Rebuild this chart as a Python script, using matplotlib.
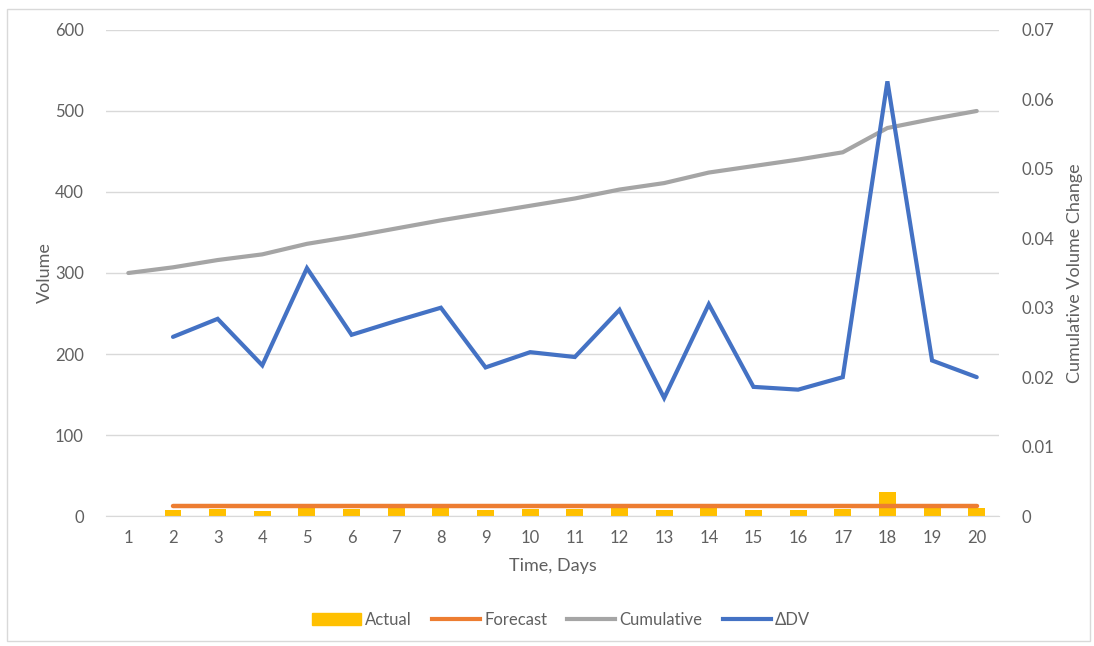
import numpy as np
import matplotlib
matplotlib.use("Agg")
import matplotlib.pyplot as plt
from matplotlib.patches import Rectangle, Patch
from matplotlib.lines import Line2D

plt.rcParams["font.family"] = ["Lato", "DejaVu Sans"]

days = list(range(1, 21))
actual = [np.nan, 8, 9, 6, 12, 9, 10, 11, 8, 9, 9, 12, 7, 13, 8, 8, 9, 30, 11, 10]
forecast = [np.nan] + [12] * 19
cumulative = [300, 307, 316, 323, 336, 345, 355, 365, 374, 383,
              392, 403, 411, 424, 432, 440, 449, 479, 490, 500]
delta_dv = [np.nan, 0.0258, 0.0284, 0.0217, 0.0357, 0.0261, 0.0281, 0.0300, 0.0214, 0.0236,
            0.0229, 0.0297, 0.0170, 0.0305, 0.0186, 0.0182, 0.0200, 0.0626, 0.0224, 0.0200]

c_actual = "#FFC000"
c_forecast = "#ED7D31"
c_cum = "#A5A5A5"
c_dv = "#4472C4"
grid_c = "#D9D9D9"
text_c = "#606060"

fig = plt.figure(figsize=(10.94, 6.46), dpi=100)
fig.patches.append(Rectangle((0.006, 0.008), 0.99, 0.978, transform=fig.transFigure,
                             fill=False, edgecolor="#D9D9D9", linewidth=1))

ax = fig.add_axes([0.0969, 0.2012, 0.8163, 0.7524])
ax2 = ax.twinx()

ax.bar(days, actual, width=0.38, color=c_actual, zorder=2)
ax.plot(days, forecast, color=c_forecast, lw=3.2, solid_capstyle="round", zorder=3)
ax.plot(days, cumulative, color=c_cum, lw=3, solid_capstyle="round", zorder=3)
ax2.plot(days, delta_dv, color=c_dv, lw=3, solid_capstyle="round",
         solid_joinstyle="miter", zorder=3)

ax.set_xlim(0.5, 20.5)
ax.set_ylim(0, 600)
ax.set_yticks(range(0, 601, 100))
ax2.set_ylim(0, 0.07)
ax2.set_yticks(np.arange(0, 0.0701, 0.01))
ax2.set_yticklabels(["0"] + [f"{v:.2f}" for v in np.arange(0.01, 0.0701, 0.01)])
ax.set_xticks(days)

ax.grid(axis="y", color=grid_c, lw=1, zorder=0)
ax.set_axisbelow(True)
for a in (ax, ax2):
    for s in ("top", "left", "right"):
        a.spines[s].set_visible(False)
    a.spines["bottom"].set_color(grid_c)
    a.tick_params(length=0, labelsize=12, labelcolor=text_c)
ax2.spines["bottom"].set_visible(False)
ax.tick_params(axis="y", pad=16)
ax.tick_params(axis="x", pad=10)
ax2.tick_params(axis="y", pad=16)

ax.set_ylabel("Volume", fontsize=13, color=text_c)
ax2.set_ylabel("Cumulative Volume Change", fontsize=13, color=text_c)
ax.set_xlabel("Time, Days", fontsize=13, color=text_c)
ax.yaxis.set_label_coords(-0.059, 0.5)
ax2.yaxis.set_label_coords(1.076, 0.5)
ax.xaxis.set_label_coords(0.5, -0.086)

handles = [Patch(color=c_actual),
           Line2D([], [], color=c_forecast, lw=3),
           Line2D([], [], color=c_cum, lw=3),
           Line2D([], [], color=c_dv, lw=3)]
labels = ["Actual", "Forecast", "Cumulative", "ΔDV"]
leg = fig.legend(handles, labels, loc="center", bbox_to_anchor=(0.513, 0.041), ncol=4,
                 frameon=False, fontsize=12, handlelength=2.9, handletextpad=0.25,
                 columnspacing=1.2)
for t in leg.get_texts():
    t.set_color(text_c)

fig.savefig("out.png", dpi=100)
